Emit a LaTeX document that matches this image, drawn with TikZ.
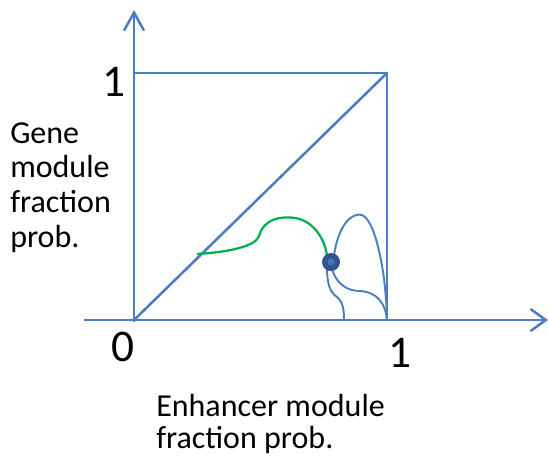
\documentclass[tikz,border=0pt]{standalone}
\usepackage{fontspec}
\setmainfont{Carlito}
\usetikzlibrary{arrows.meta}
\definecolor{lineblue}{RGB}{74,126,193}
\definecolor{dotblue}{RGB}{50,84,140}
\definecolor{dotinner}{RGB}{70,115,185}
\definecolor{curvegreen}{RGB}{0,176,80}
\tikzset{
  axis/.style={line width=1.9pt, draw=lineblue},
  thinline/.style={line width=1.45pt, draw=lineblue},
  greenline/.style={line width=1.7pt, draw=curvegreen},
  bignum/.style={font=\fontsize{34}{40}\selectfont, inner sep=0pt},
  label/.style={align=left, inner sep=0pt, anchor=north west},
  dotnode/.style={circle, fill=dotblue, minimum size=13.5pt, inner sep=0pt}
}
\begin{document}
\begin{tikzpicture}[x=0.75pt, y=-0.75pt]
\useasboundingbox (0,0) rectangle (549,457);
\coordinate (O) at (134,320);
\coordinate (Ytip) at (134,10);
\coordinate (Xstart) at (84,320);
\coordinate (Xtip) at (548,320);
\coordinate (Ybot) at (134,322);
\coordinate (TL) at (134,73);
\coordinate (TR) at (387,73);
\coordinate (BR) at (387,320);
% axes
\draw[axis, -{Straight Barb[length=13.5pt, width=15pt, line width=1.9pt]}] (Ybot) -- (Ytip);
\draw[axis, -{Straight Barb[length=11.5pt, width=16.5pt, line width=1.9pt]}] (Xstart) -- (Xtip);
% box and diagonal
\draw[axis] (TL) -- (TR) -- (BR);
\draw[axis] (O) -- (TR);
% curves
\coordinate (D) at (331,262);
\draw[thinline] (334,256) .. controls (338,225) and (352,212) .. (362,215)
  .. controls (375,220) and (386,270) .. (BR);
\draw[thinline] (331,266) .. controls (336,285) and (348,291) .. (360,291)
  .. controls (378,292) and (386,305) .. (BR);
\draw[thinline] (327,266) .. controls (327,285) and (330,292) .. (337,297)
  .. controls (343,302) and (344,310) .. (344,320);
\draw[greenline] (197,254) .. controls (230,252) and (256,246) .. (259,236)
  .. controls (264,218) and (282,216) .. (295,218)
  .. controls (315,221) and (326,242) .. (327,257);
\node[dotnode] (dot) at (D) {};
\fill[dotinner] (dot.center) circle (2.7pt);
% labels
\node[bignum] (one-y) at (114,82) {1};
\node[bignum] (zero) at (123,347) {0};
\node[bignum] (one-x) at (400,353) {1};
\node[label, font=\fontsize{24}{26}\selectfont] (ylab) at (10,122) {Gene\\module\\fraction\\prob.};
\node[label, font=\fontsize{24}{23.7}\selectfont] (xlab) at (156,394) {Enhancer module\\fraction prob.};
\end{tikzpicture}
\end{document}
